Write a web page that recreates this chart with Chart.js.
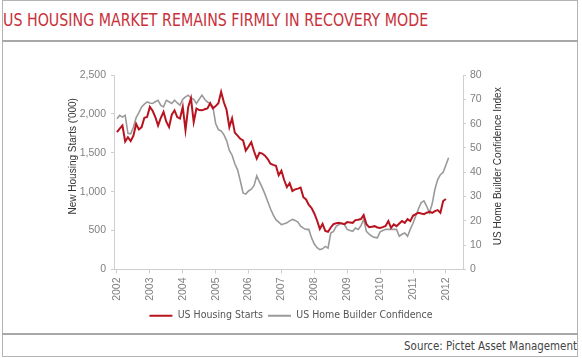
<!DOCTYPE html>
<html>
<head>
<meta charset="utf-8">
<script src="https://cdn.jsdelivr.net/npm/chart.js@4.4.1/dist/chart.umd.min.js"></script>
<style>
  body { margin: 0; background: #fff; }
  #wrap { position: relative; width: 582px; height: 358px; overflow: hidden; }
  #box { position: absolute; left: 2px; top: 0; width: 574px; height: 355px; border: 1px solid #b4b4b4; }
  #title { position: absolute; left: 3px; top: 10px; font: 17px 'DejaVu Sans Condensed', sans-serif; color: #c8313b; white-space: nowrap; transform: scaleX(0.93); transform-origin: 0 0; }
  .rule { position: absolute; left: 2px; width: 576px; height: 2px; background: #a8a8a8; }
  #source { position: absolute; right: 5px; top: 339px; font: 12px 'DejaVu Sans Condensed', sans-serif; color: #444; transform: scaleX(0.95); transform-origin: 100% 0; }
  #chart { position: absolute; left: 0; top: 0; }
</style>
</head>
<body>
<div id="wrap">
  <div id="box"></div>
  <div id="title">US HOUSING MARKET REMAINS FIRMLY IN RECOVERY MODE</div>
  <div class="rule" style="top:40px"></div>
  <div class="rule" style="top:333px"></div>
  <div id="source">Source: Pictet Asset Management</div>
  <canvas id="chart" width="582" height="358"></canvas>
</div>
<script>
const _ = (id) => document.getElementById(id)

// monthly, Jan 2002 onwards
const startYear = 2002
const yearTicks = ['2002', '2003', '2004', '2005', '2006', '2007', '2008', '2009', '2010', '2011', '2012']
const housingStarts = [
  1765, 1810, 1850, 1645, 1700, 1650, 1720, 1870, 1800, 1830, 1950, 1960,
  2090, 2040, 1960, 1850, 1950, 2025, 1900, 1830, 1990, 2046, 1960, 1940,
  2090, 1790, 2090, 2200, 1895, 2070, 2050, 2046, 2060, 2070, 2137, 2070,
  2100, 2137, 2283, 2150, 2050, 1830, 1942, 1760, 1720, 1680, 1658, 1528,
  1580, 1636, 1520, 1424, 1500, 1490, 1463, 1420, 1360, 1345, 1334, 1210,
  1269, 1150, 1060, 1110, 1010, 1030, 1040, 1053, 930, 900, 830, 790,
  720, 630, 520, 585, 495, 485, 540, 583, 595, 600, 590, 583,
  609, 605, 600, 635, 640, 648, 699, 583, 544, 550, 557, 540,
  535, 544, 560, 622, 535, 580, 557, 590, 622, 600, 648, 622,
  690, 712, 729, 720, 712, 730, 742, 729, 750, 764, 729, 880,
  906,
]
const builderConfidence = [
  62, 63.4, 62.7, 63.4, 56, 55.8, 58.5, 62.5, 64.5, 66.9, 68, 68.9,
  68.5, 68.3, 69, 69.6, 67.5, 66.9, 69.6, 69, 68.3, 69.6, 68.5, 67.6,
  70, 71, 71.7, 70.5, 70, 68.3, 70, 71.7, 70, 68.9, 68.3, 67,
  60, 57.5, 57, 55.5, 53, 49, 47, 43.5, 41, 36.5, 31.5, 31,
  32.3, 33, 34.5, 38.5, 36, 33.7, 31, 28, 25, 22.5, 20.5, 19.5,
  18.5, 18.8, 19.2, 20, 20.6, 20.2, 19.5, 17.8, 17, 16.5, 16.5, 13,
  10.5, 9, 8.2, 8.5, 9.5, 8.8, 15, 15.7, 17.8, 18.5, 19.2, 18.5,
  16.5, 16, 15.7, 17.1, 16.5, 18, 20.6, 15.7, 14.5, 13.7, 13.2, 13,
  15.5, 16, 16.5, 16.5, 16.5, 16.5, 16.5, 13.7, 14.5, 15, 13.7, 16.5,
  19, 22, 25, 27.5, 28.2, 26, 23.3, 27, 33, 37, 39, 40,
  43, 46,
]
const seriesNames = ['US Housing Starts', 'US Home Builder Confidence']
const leftTitle = "New Housing Starts ('000)"
const rightTitle = 'US Home Builder Confidence Index'

const months = builderConfidence.map((v, i) => startYear + i / 12)

const tickFont = { family: "'Liberation Sans', Arial, sans-serif", size: 10.5 }
const legendFont = { family: "'DejaVu Sans Condensed', sans-serif", size: 10.5 }
const axisColor = '#cfcfcf'

const axisTitles = {
  id: 'axisTitles',
  afterDraw(chart) {
    const { ctx, chartArea } = chart
    const midY = (chartArea.top + chartArea.bottom) / 2
    ctx.save()
    ctx.font = "10px 'Liberation Sans', Arial, sans-serif"
    ctx.fillStyle = '#333'
    ctx.textAlign = 'center'
    ctx.textBaseline = 'middle'
    ctx.translate(73, midY - 16)
    ctx.rotate(-Math.PI / 2)
    ctx.fillText(leftTitle, 0, 0)
    ctx.restore()
    ctx.save()
    ctx.font = "10px 'Liberation Sans', Arial, sans-serif"
    ctx.fillStyle = '#333'
    ctx.textAlign = 'center'
    ctx.textBaseline = 'middle'
    ctx.translate(498, midY - 6)
    ctx.rotate(-Math.PI / 2)
    ctx.fillText(rightTitle, 0, 0)
    ctx.restore()
  },
}

new Chart(_('chart'), {
  type: 'line',
  data: {
    labels: months,
    datasets: [
      {
        label: seriesNames[0],
        data: housingStarts,
        borderColor: '#b8141f',
        backgroundColor: '#b8141f',
        borderWidth: 2,
        pointRadius: 0,
        tension: 0,
        yAxisID: 'y',
      },
      {
        label: seriesNames[1],
        data: builderConfidence,
        borderColor: '#9a9a9a',
        backgroundColor: '#9a9a9a',
        borderWidth: 1.6,
        pointRadius: 0,
        tension: 0,
        yAxisID: 'y1',
      },
    ],
  },
  options: {
    responsive: false,
    animation: false,
    layout: { padding: { top: 75, left: 0, right: 0, bottom: 27 } },
    plugins: {
      tooltip: { enabled: false },
      legend: {
        position: 'bottom',
        labels: {
          boxWidth: 23,
          boxHeight: 2,
          padding: 5,
          color: '#555',
          font: legendFont,
          generateLabels(chart) {
            return Chart.defaults.plugins.legend.labels
              .generateLabels(chart)
              .map((l) => ({ ...l, lineWidth: 0, fillStyle: l.strokeStyle }))
          },
        },
      },
    },
    scales: {
      x: {
        type: 'linear',
        min: 2001.91,
        max: 2012.52,
        afterFit: (s) => { s.height = 36 },
        afterBuildTicks: (s) => { s.ticks = yearTicks.map((v) => ({ value: +v })) },
        border: { color: axisColor },
        grid: { drawOnChartArea: false, color: axisColor, tickLength: 4 },
        ticks: {
          color: '#808080',
          font: tickFont,
          minRotation: 90,
          maxRotation: 90,
          padding: 4,
          callback: (v) => String(v),
        },
      },
      y: {
        position: 'left',
        min: 0,
        max: 2500,
        afterFit: (s) => { s.width = 114 },
        border: { color: axisColor },
        grid: { drawOnChartArea: false, color: axisColor, tickLength: 3 },
        ticks: { stepSize: 500, color: '#808080', font: tickFont, padding: 5 },
      },
      y1: {
        position: 'right',
        min: 0,
        max: 80,
        afterFit: (s) => { s.width = 119 },
        border: { color: axisColor },
        grid: { drawOnChartArea: false, color: axisColor, tickLength: 3 },
        ticks: { stepSize: 10, color: '#808080', font: tickFont, padding: 4 },
      },
    },
  },
  plugins: [axisTitles],
})
</script>
</body>
</html>
